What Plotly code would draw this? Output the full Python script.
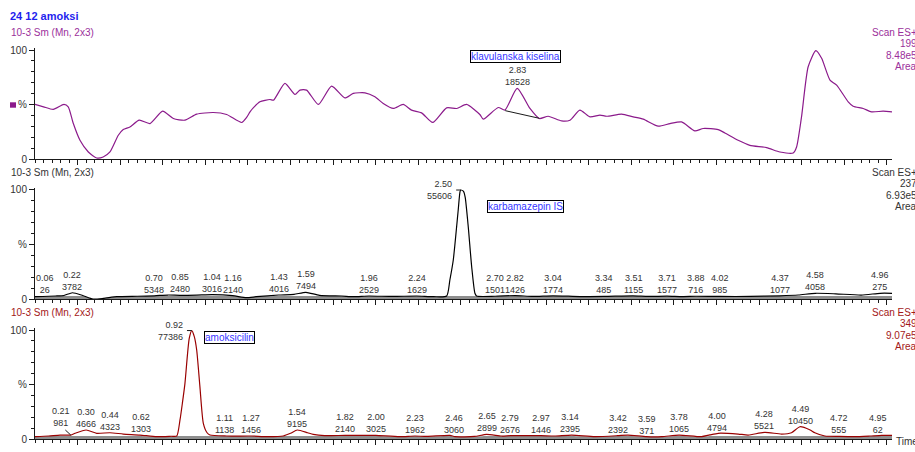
import numpy as np
import plotly.graph_objects as go

# ---- Chromatogram traces: retention time (min) vs relative intensity (%) ----
time_klav = [0.00, 0.05, 0.107, 0.17, 0.195, 0.225, 0.264, 0.313, 0.362, 0.40,
             0.44, 0.489, 0.518, 0.557, 0.612, 0.675, 0.749, 0.812, 0.88, 0.949,
             1.046, 1.125, 1.213, 1.242, 1.262, 1.281, 1.32, 1.379, 1.40, 1.467,
             1.526, 1.555, 1.594, 1.663, 1.741, 1.819, 1.868, 1.937, 1.995, 2.044,
             2.103, 2.161, 2.21, 2.269, 2.334, 2.416, 2.475, 2.533, 2.611, 2.631,
             2.719, 2.758, 2.83, 2.905, 2.96, 3.012, 3.091, 3.14, 3.198, 3.257,
             3.316, 3.355, 3.443, 3.511, 3.57, 3.658, 3.727, 3.795, 3.873, 3.922,
             4.01, 4.049, 4.127, 4.196, 4.294, 4.372, 4.45, 4.47, 4.499, 4.538,
             4.583, 4.617, 4.666, 4.705, 4.773, 4.802, 4.861, 4.91, 4.978, 5.03]
int_klav = [50.2, 48, 45.6, 50.2, 48, 32.7, 17.4, 6.7, 1.2, 2.1,
            6.7, 22, 27.2, 29.6, 35.8, 32.7, 44, 37.3, 35.8, 41.3,
            42.8, 41, 33.7, 38.3, 43.4, 47, 52.6, 54.7, 54.1, 69.4,
            59.3, 63.3, 63.3, 50.2, 67, 56.2, 60.3, 60.8, 57.2, 51.1,
            46.5, 50.2, 45, 42.5, 33.7, 47.1, 46.5, 50.2, 41, 36.7,
            47.4, 45, 64.9, 46.5, 37.3, 39.4, 35.1, 35.8, 45, 38.8,
            40.4, 39.4, 41.3, 38.8, 36.7, 30.3, 32.7, 34.2, 26, 28.2,
            27.2, 24.1, 17.4, 12.8, 10.7, 6.7, 5.8, 11.3, 38.8, 84.7,
            99.4, 92.4, 72.5, 67.9, 52.6, 48.6, 46.5, 43.4, 44, 43.4]

time_karb = [0.00, 0.12, 0.17, 0.22, 0.28, 0.34, 0.40, 0.48, 0.60, 0.70,
             0.78, 0.85, 0.95, 1.04, 1.16, 1.24, 1.30, 1.43, 1.52, 1.59,
             1.67, 1.80, 1.87, 1.96, 2.10, 2.24, 2.34, 2.416, 2.435, 2.455,
             2.484, 2.495, 2.50, 2.515, 2.525, 2.543, 2.563, 2.582, 2.592, 2.70,
             2.82, 2.92, 3.04, 3.20, 3.34, 3.51, 3.60, 3.71, 3.80, 3.88,
             4.02, 4.20, 4.37, 4.48, 4.58, 4.70, 4.85, 4.96, 5.03]
int_karb = [2.4, 3.0, 3.5, 6.0, 3.5, 0.3, 0.8, 2.4, 2.8, 3.2,
            3.9, 3.6, 3.8, 4.2, 3.3, 1.5, 2.4, 3.9, 4.5, 6.4,
            3.6, 3.0, 2.4, 3.0, 2.6, 3.0, 2.4, 3.0, 17.6, 35.9,
            81.5, 98.5, 99.7, 98.5, 93, 66, 29.7, 5.5, 3.0, 2.8,
            3.4, 2.6, 3.2, 2.5, 2.6, 3.1, 2.6, 2.9, 2.5, 2.8,
            2.6, 2.6, 3.2, 3.9, 5.5, 5.0, 3.9, 5.5, 5.5]

time_amok = [0.00, 0.08, 0.147, 0.21, 0.235, 0.30, 0.362, 0.44, 0.518, 0.616,
             0.714, 0.80, 0.832, 0.851, 0.865, 0.88, 0.905, 0.92, 0.935, 0.949,
             0.968, 0.988, 1.01, 1.027, 1.125, 1.27, 1.36, 1.457, 1.50, 1.54,
             1.60, 1.633, 1.70, 1.82, 1.946, 2.00, 2.14, 2.23, 2.30, 2.435,
             2.465, 2.58, 2.65, 2.739, 2.79, 2.97, 3.05, 3.15, 3.286, 3.42,
             3.48, 3.59, 3.678, 3.78, 3.912, 3.96, 4.01, 4.127, 4.186, 4.284,
             4.382, 4.44, 4.49, 4.55, 4.577, 4.636, 4.72, 4.812, 4.90, 4.97,
             5.03]
int_amok = [2.4, 3.0, 3.9, 3.9, 5.5, 8.5, 5.5, 6.0, 4.8, 3.9,
            2.4, 2.8, 3.0, 17.7, 33, 51, 92, 99.5, 94, 81.7,
            48, 14.6, 6.0, 3.9, 3.0, 3.0, 2.4, 3.0, 5.5, 8.5,
            6.0, 4.5, 3.3, 3.6, 3.6, 3.6, 2.4, 3.0, 2.6, 3.6,
            2.4, 2.6, 4.5, 3.0, 3.3, 3.3, 3.0, 3.9, 2.4, 3.3,
            3.9, 2.4, 2.4, 3.9, 2.4, 4.0, 5.5, 4.8, 3.9, 6.4,
            4.8, 6.0, 11.5, 8.5, 6.0, 3.0, 2.6, 2.4, 3.0, 3.6,
            3.6]

# ---- Integrated peaks: retention time and area ----
rt_klav = [2.83]
area_klav = [18528]
rt_karb = [0.06, 0.22, 0.70, 0.85, 1.04, 1.16, 1.43, 1.59, 1.96, 2.24, 2.50,
           2.70, 2.82, 3.04, 3.34, 3.51, 3.71, 3.88, 4.02, 4.37, 4.58, 4.96]
area_karb = [26, 3782, 5348, 2480, 3016, 2140, 4016, 7494, 2529, 1629, 55606,
             1501, 1426, 1774, 485, 1155, 1577, 716, 985, 1077, 4058, 275]
rt_amok = [0.21, 0.30, 0.44, 0.62, 0.92, 1.11, 1.27, 1.54, 1.82, 2.00, 2.23, 2.46,
           2.65, 2.79, 2.97, 3.14, 3.42, 3.59, 3.78, 4.00, 4.28, 4.49, 4.72, 4.95]
area_amok = [981, 4666, 4323, 1303, 77386, 1138, 1456, 9195, 2140, 3025, 1962, 3060,
             2899, 2676, 1446, 2395, 2392, 371, 1065, 4794, 5521, 10450, 555, 62]

# ---- Axis labels ----
x_tick_vals = [0.25, 0.50, 0.75, 1.00, 1.25, 1.50, 1.75, 2.00, 2.25, 2.50,
               2.75, 3.00, 3.25, 3.50, 3.75, 4.00, 4.25, 4.50, 4.75, 5.00]
x_tick_text = ["0.25", "0.50", "0.75", "1.00", "1.25", "1.50", "1.75", "2.00", "2.25", "2.50",
               "2.75", "3.00", "3.25", "3.50", "3.75", "4.00", "4.25", "4.50", "4.75", "5.00"]
y_tick_vals = [0, 50, 100]
y_tick_text = ["0", "%", "100"]

sample_name = "24 12 amoksi"
trace_header = "10-3 Sm (Mn, 2x3)"
compound_names = ["klavulanska kiselina", "karbamazepin IS", "amoksicilin"]
scan_info = [["Scan ES+", "199", "8.48e5", "Area"],
             ["Scan ES+", "237", "6.93e5", "Area"],
             ["Scan ES+", "349", "9.07e5", "Area"]]

# ---- Page geometry (pixels) ----
W, H = 915, 452
FONT = "Liberation Sans, Arial, sans-serif"
AX = "#1a1a1a"
LABEL = "#333333"
YMAX = 101.5
X_RANGE = [0, 5.03]


def fx(p):
    return p / W


def fy(p):
    return 1 - p / H


# (pixel row of 0 %, pixel row of 100 %) for each stacked trace
panel_rows = [(159.3, 50.0), (299.3, 189.7), (439.3, 330.0)]
line_colors = ["#8b1a8b", "#000000", "#990000"]
text_colors = ["#9b2f9b", "#333333", "#a31818"]
header_rows = [32.5, 172.5, 312.5]

series = [(time_klav, int_klav), (time_karb, int_karb), (time_amok, int_amok)]
peaks = [(rt_klav, area_klav), (rt_karb, area_karb), (rt_amok, area_amok)]

fig = go.Figure()
layout = {}
annotations = []
shapes = []


def band(t, y, cap, lo, hi):
    out = []
    for ti, yi in zip(t, y):
        out.append(None if lo < ti < hi else min(yi, cap))
    return out


fill_gaps = {1: (2.42, 2.59), 2: (0.84, 1.02)}

for k, (zero, hundred) in enumerate(panel_rows):
    sfx = "" if k == 0 else str(k + 1)
    xa, ya = "x" + sfx, "y" + sfx
    scale = (zero - hundred) / 100.0
    top = hundred - (YMAX - 100) * scale
    layout["xaxis" + sfx] = dict(
        domain=[fx(35), fx(892)], range=X_RANGE, anchor=ya, automargin=False,
        showline=True, linecolor=AX, linewidth=1, showgrid=False, zeroline=False,
        ticks="outside", ticklen=5, tickwidth=1, tickcolor=AX,
        tickmode="array", tickvals=x_tick_vals, ticktext=x_tick_text,
        showticklabels=(k == 2), ticklabelstandoff=3,
        tickfont=dict(size=10, color=LABEL, family=FONT),
        minor=dict(tickmode="linear", tick0=0, dtick=0.05, ticks="outside",
                   ticklen=3, tickcolor=AX, tickwidth=1),
        fixedrange=True,
    )
    layout["yaxis" + sfx] = dict(
        domain=[fy(zero), fy(top)], range=[0, YMAX], anchor=xa, automargin=False,
        showline=True, linecolor=AX, linewidth=1, showgrid=False, zeroline=False,
        ticks="outside", ticklen=5, tickwidth=1, tickcolor=AX,
        tickmode="array", tickvals=y_tick_vals, ticktext=y_tick_text,
        tickfont=dict(size=10, color=LABEL, family=FONT),
        minor=dict(tickmode="linear", tick0=0, dtick=10, ticks="outside",
                   ticklen=3, tickcolor=AX, tickwidth=1),
        fixedrange=True,
    )

    t, y = series[k]
    if k in fill_gaps:
        lo, hi = fill_gaps[k]
        fig.add_trace(go.Scatter(
            x=t, y=band(t, y, 3.0, lo, hi), xaxis=xa, yaxis=ya, mode="lines",
            line=dict(width=0, shape="spline", smoothing=0.6),
            fill="tozeroy", fillcolor="#8e8e8e", hoverinfo="skip", showlegend=False))
    fig.add_trace(go.Scatter(
        x=t, y=y, xaxis=xa, yaxis=ya, mode="lines",
        line=dict(color=line_colors[k], width=1.2, shape="spline", smoothing=0.6),
        showlegend=False))

    # peak retention time / area labels
    rts, areas = peaks[k]
    for rt, ar in zip(rts, areas):
        yv = float(np.interp(rt, t, y))
        txt = f"{rt:.2f}<br>{ar}"
        base = dict(x=rt, xref=xa, yref=ya, text=txt, showarrow=False,
                    font=dict(size=9, color=LABEL, family=FONT))
        if yv > 90:
            # main peak: label to the left of the apex with a short leader
            annotations.append(dict(base, y=yv, xanchor="right", yanchor="middle",
                                    align="right", xshift=-7))
            shapes.append(dict(type="line", xref=xa, yref=ya, x0=rt - 0.028, x1=rt,
                               y0=yv, y1=yv, line=dict(color=AX, width=1)))
        elif k == 2 and rt == rt_amok[0]:
            annotations.append(dict(base, y=yv, xanchor="center", yanchor="bottom",
                                    xshift=-10, yshift=5))
            shapes.append(dict(type="line", xref=xa, yref=ya, x0=rt - 0.032, x1=rt,
                               y0=yv + 4.6, y1=yv, line=dict(color=AX, width=1)))
        else:
            annotations.append(dict(base, y=yv, xanchor="center", yanchor="bottom",
                                    yshift=-1))

    # trace header (left) and scan description (right, running off the page edge)
    annotations.append(dict(x=fx(9), y=fy(header_rows[k]), xref="paper", yref="paper",
                            text=trace_header, showarrow=False, xanchor="left",
                            yanchor="middle",
                            font=dict(size=10, color=text_colors[k], family=FONT)))
    for j, line in enumerate(scan_info[k]):
        annotations.append(dict(x=fx(919), y=fy(header_rows[k] + 11.4 * j),
                                xref="paper", yref="paper", text=line, showarrow=False,
                                xanchor="right", yanchor="middle",
                                font=dict(size=10, color=text_colors[k], family=FONT)))

# compound name boxes
name_pos = [(2.82, 94.5), (2.876, 85.1), (1.143, 93.1)]
for k, (nm, (nx, ny)) in enumerate(zip(compound_names, name_pos)):
    sfx = "" if k == 0 else str(k + 1)
    annotations.append(dict(x=nx, y=ny, xref="x" + sfx, yref="y" + sfx, text=nm,
                            showarrow=False, xanchor="center", yanchor="middle",
                            bgcolor="white", bordercolor="black", borderwidth=1,
                            borderpad=0, font=dict(size=10, color="#3535ff", family=FONT)))

# integration baseline under the clavulanic acid peak
shapes.append(dict(type="line", xref="x", yref="y", x0=2.76, y0=44.5, x1=2.96, y1=37.5,
                   line=dict(color=AX, width=1)))

# sample title, channel marker and time axis caption
annotations.append(dict(x=fx(8), y=fy(16.5), xref="paper", yref="paper",
                        text="<b>" + sample_name + "</b>", showarrow=False,
                        xanchor="left", yanchor="middle",
                        font=dict(size=11, color="#1f1fee", family=FONT)))
shapes.append(dict(type="rect", xref="paper", yref="paper", x0=fx(10), x1=fx(16),
                   y0=fy(107.7), y1=fy(102.3), fillcolor="#8b1a8b", line=dict(width=0)))
annotations.append(dict(x=fx(894), y=fy(441.5), xref="paper", yref="paper", text="Time",
                        showarrow=False, xanchor="left", yanchor="middle",
                        font=dict(size=10, color=LABEL, family=FONT)))

fig.update_layout(
    template="none",
    width=W, height=H, margin=dict(l=0, r=0, t=0, b=0, autoexpand=False),
    paper_bgcolor="white", plot_bgcolor="white",
    font=dict(family=FONT, size=10, color=LABEL),
    showlegend=False, annotations=annotations, shapes=shapes, **layout,
)

fig.write_html("out.html")
